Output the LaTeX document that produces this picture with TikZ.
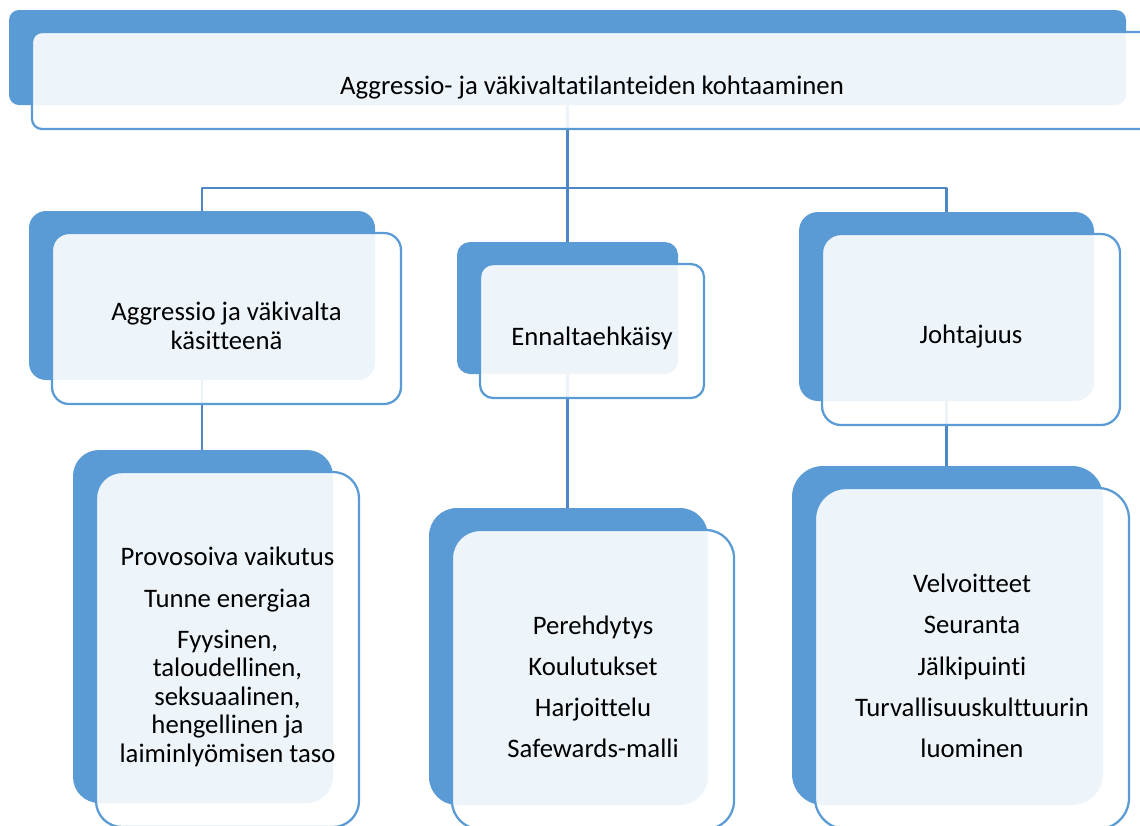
\documentclass[tikz,border=0pt]{standalone}
\usepackage{fontspec}
\setmainfont{Carlito}[Ligatures=NoCommon]
\usetikzlibrary{calc}
\definecolor{smblue}{HTML}{5B9BD5}
\definecolor{smline}{HTML}{4F86C6}
\begin{document}
\begin{tikzpicture}[x=0.025cm,y=-0.025cm,line join=round,
	font=\fontsize{19}{20.3}\selectfont,
	box/.style n args={3}{minimum width=#1*0.025cm,minimum height=#2*0.025cm,
		rounded corners=#3*0.025cm,inner sep=0pt,outer sep=0pt},
	back/.style={fill=smblue,draw=none},
	front/.style={draw=smblue,line width=1.6pt,fill=white,fill opacity=0.9},
	link/.style={draw=smline,line width=1.8pt},
	txt/.style={align=center,text=black,inner sep=0pt}]
	\useasboundingbox (0,0) rectangle (1140,825);
	\node[back,box={1117}{95}{10}] (tb) at (567.5,57.5) {};
	\node[back,box={346}{169}{17}] (lb) at (202,295.5) {};
	\node[back,box={221}{132}{13}] (mb) at (567.5,308) {};
	\node[back,box={295}{189}{19}] (rb) at (946.5,306.5) {};
	\node[back,box={260}{353}{26}] (blb) at (203,626.5) {};
	\node[back,box={279}{297}{28}] (bmb) at (568.5,656.5) {};
	\node[back,box={311}{339}{31}] (brb) at (947.5,635.5) {};
	\path (tb.south) ++(0,83) coordinate (bus);
	\draw[link] (tb.south) -- (mb.north);
	\draw[link] (lb.north) |- (bus) -| (rb.north);
	\draw[link] (lb.south) -- (lb.south |- blb.north);
	\draw[link] (mb.south) -- (mb.south |- bmb.north);
	\draw[link] (rb.south) -- (rb.south |- brb.north);
	\node[front,box={1120}{97}{10}] (tf) at ($(tb.center)+(24.5,23)$) {};
	\node[front,box={349}{171}{17}] (lf) at ($(lb.center)+(24.5,23)$) {};
	\node[front,box={224}{134}{13}] (mf) at ($(mb.center)+(24.5,23)$) {};
	\node[front,box={298}{191}{19}] (rf) at ($(rb.center)+(24.5,23)$) {};
	\node[front,box={263}{355}{26}] (blf) at ($(blb.center)+(24.5,23)$) {};
	\node[front,box={282}{299}{28}] (bmf) at ($(bmb.center)+(24.5,23)$) {};
	\node[front,box={314}{341}{31}] (brf) at ($(brb.center)+(24.5,23)$) {};
	\node[txt] (tt) at ($(tf.center)+(0,7.5)$) {Aggressio- ja väkivaltatilanteiden kohtaaminen};
	\node[txt] (lt) at ($(lf.center)+(0,7.5)$) {Aggressio ja väkivalta\\käsitteenä};
	\node[txt] (mt) at ($(mf.center)+(0,7.5)$) {Ennaltaehkäisy};
	\node[txt] (rt) at ($(rf.center)+(0,7.5)$) {Johtajuus};
	\node[txt] (blt) at ($(blf.center)+(0,7.5)$) {Provosoiva vaikutus\\[9pt]Tunne energiaa\\[9pt]Fyysinen,\\taloudellinen,\\seksuaalinen,\\hengellinen ja\\laiminlyömisen taso};
	\node[txt] (bmt) at ($(bmf.center)+(0,7.5)$) {Perehdytys\\[9pt]Koulutukset\\[9pt]Harjoittelu\\[9pt]Safewards-malli};
	\node[txt] (brt) at ($(brf.center)+(0,7.5)$) {Velvoitteet\\[9pt]Seuranta\\[9pt]Jälkipuinti\\[9pt]Turvallisuuskulttuurin\\[9pt]luominen};
\end{tikzpicture}
\end{document}
